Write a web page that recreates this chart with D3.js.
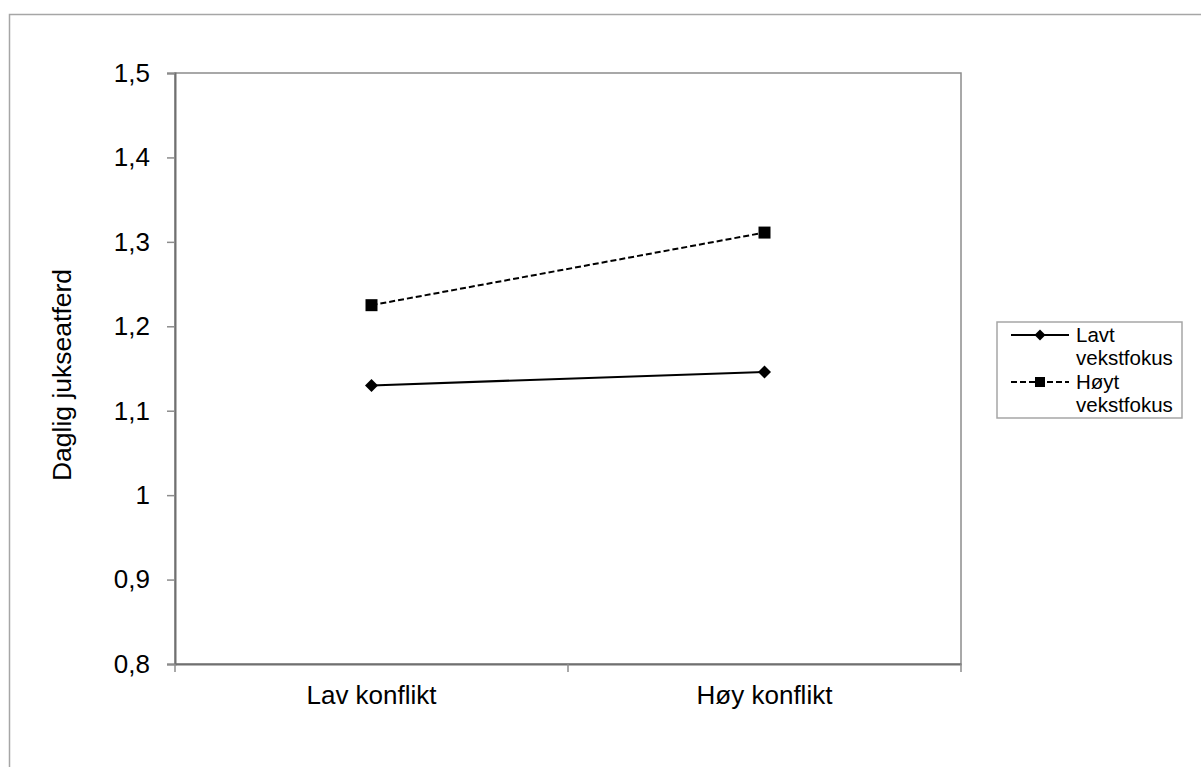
<!DOCTYPE html>
<html><head><meta charset="utf-8">
<script src="https://cdn.jsdelivr.net/npm/d3@7"></script>
<style>body{margin:0;background:#fff;} svg{display:block;font-family:"Liberation Sans",Arial,sans-serif;}</style>
</head><body>
<script>
const categories = ["Lav konflikt", "Høy konflikt"];
const seriesNames = ["Lavt\nvekstfokus", "Høyt\nvekstfokus"];
const lavtValues = [1.13, 1.146];
const hoytValues = [1.225, 1.311];
const yTicks = [0.8, 0.9, 1, 1.1, 1.2, 1.3, 1.4, 1.5];
const yTickLabels = ["0,8", "0,9", "1", "1,1", "1,2", "1,3", "1,4", "1,5"];
const yTitle = "Daglig jukseatferd";

const W = 1201, H = 767;
const FONT = "Liberation Sans, Arial, sans-serif";
const svg = d3.select("body").append("svg").attr("width", W).attr("height", H);

// outer frame
svg.append("rect").attr("x", 9.5).attr("y", 14.5).attr("width", 1250).attr("height", 800)
  .attr("fill", "none").attr("stroke", "#a6a6a6").attr("stroke-width", 1.5);

const L = 175, R = 961, T = 73, B = 664;
const x = d3.scaleBand().domain(categories).range([L, R]);
const y = d3.scaleLinear().domain([0.8, 1.5]).range([B, T]);

// plot frame
svg.append("rect").attr("x", L).attr("y", T).attr("width", R - L).attr("height", B - T)
  .attr("fill", "none").attr("stroke", "#8c8c8c").attr("stroke-width", 1.5);

// y axis
const yAxis = d3.axisLeft(y).tickValues(yTicks).tickSize(8).tickPadding(17)
  .tickFormat((d, i) => yTickLabels[i]);
const gy = svg.append("g").attr("transform", `translate(${L},0)`).call(yAxis);
gy.attr("font-family", FONT).attr("font-size", 26);
gy.select(".domain").attr("stroke", "#707070").attr("stroke-width", 2);
gy.selectAll(".tick line").attr("stroke", "#8c8c8c").attr("stroke-width", 1.5);
gy.selectAll(".tick text").attr("fill", "#000");

// x axis
const xAxis = d3.axisBottom(x).tickSize(0).tickPadding(22);
const gx = svg.append("g").attr("transform", `translate(0,${B})`).call(xAxis);
gx.attr("font-family", FONT).attr("font-size", 26);
gx.select(".domain").attr("stroke", "#707070").attr("stroke-width", 2);
gx.selectAll(".tick text").attr("fill", "#000");
// boundary ticks between categories
const bounds = [x.range()[0], x(categories[1]), x.range()[1]];
svg.append("g").selectAll("line").data(bounds).join("line")
  .attr("x1", d => d).attr("x2", d => d).attr("y1", B).attr("y2", B + 8)
  .attr("stroke", "#8c8c8c").attr("stroke-width", 1.5);

// y title
svg.append("text").attr("transform", `translate(71,${375}) rotate(-90)`)
  .attr("text-anchor", "middle").attr("font-size", 26.5).attr("font-family", FONT).text(yTitle);

const cx = d => x(d) + x.bandwidth() / 2;
const line = d3.line().x((d, i) => cx(categories[i])).y(d => y(d));

const diamondPath = s => `M0,${-s}L${s},0L0,${s}L${-s},0Z`;
const squarePath = s => `M${-s},${-s}H${s}V${s}H${-s}Z`;

// Høyt series
svg.append("path").datum(hoytValues).attr("d", line).attr("fill", "none")
  .attr("stroke", "#000").attr("stroke-width", 2).attr("stroke-dasharray", "6,3");
svg.append("g").selectAll("path").data(hoytValues).join("path")
  .attr("d", squarePath(6)).attr("transform", (d, i) => `translate(${cx(categories[i])},${y(d)})`).attr("fill", "#000");

// Lavt series
svg.append("path").datum(lavtValues).attr("d", line).attr("fill", "none")
  .attr("stroke", "#000").attr("stroke-width", 2);
svg.append("g").selectAll("path").data(lavtValues).join("path")
  .attr("d", diamondPath(6.5)).attr("transform", (d, i) => `translate(${cx(categories[i])},${y(d)})`).attr("fill", "#000");

// legend
const lg = svg.append("g").attr("font-family", FONT);
lg.append("rect").attr("x", 997).attr("y", 322).attr("width", 185).attr("height", 96)
  .attr("fill", "#fff").attr("stroke", "#a6a6a6").attr("stroke-width", 1.5);
const legendItems = [
  {name: seriesNames[0], dash: null, sym: diamondPath(5.5), y0: 335, ty: 342},
  {name: seriesNames[1], dash: "6,3", sym: squarePath(5), y0: 382, ty: 389}
];
legendItems.forEach(it => {
  lg.append("line").attr("x1", 1011).attr("x2", 1069).attr("y1", it.y0).attr("y2", it.y0)
    .attr("stroke", "#000").attr("stroke-width", 2).attr("stroke-dasharray", it.dash);
  lg.append("path").attr("d", it.sym).attr("transform", `translate(1040,${it.y0})`).attr("fill", "#000");
  it.name.split("\n").forEach((t, j) => {
    lg.append("text").attr("x", 1076).attr("y", it.ty + j * 23).attr("font-size", 20.5).text(t);
  });
});
</script>
</body></html>
